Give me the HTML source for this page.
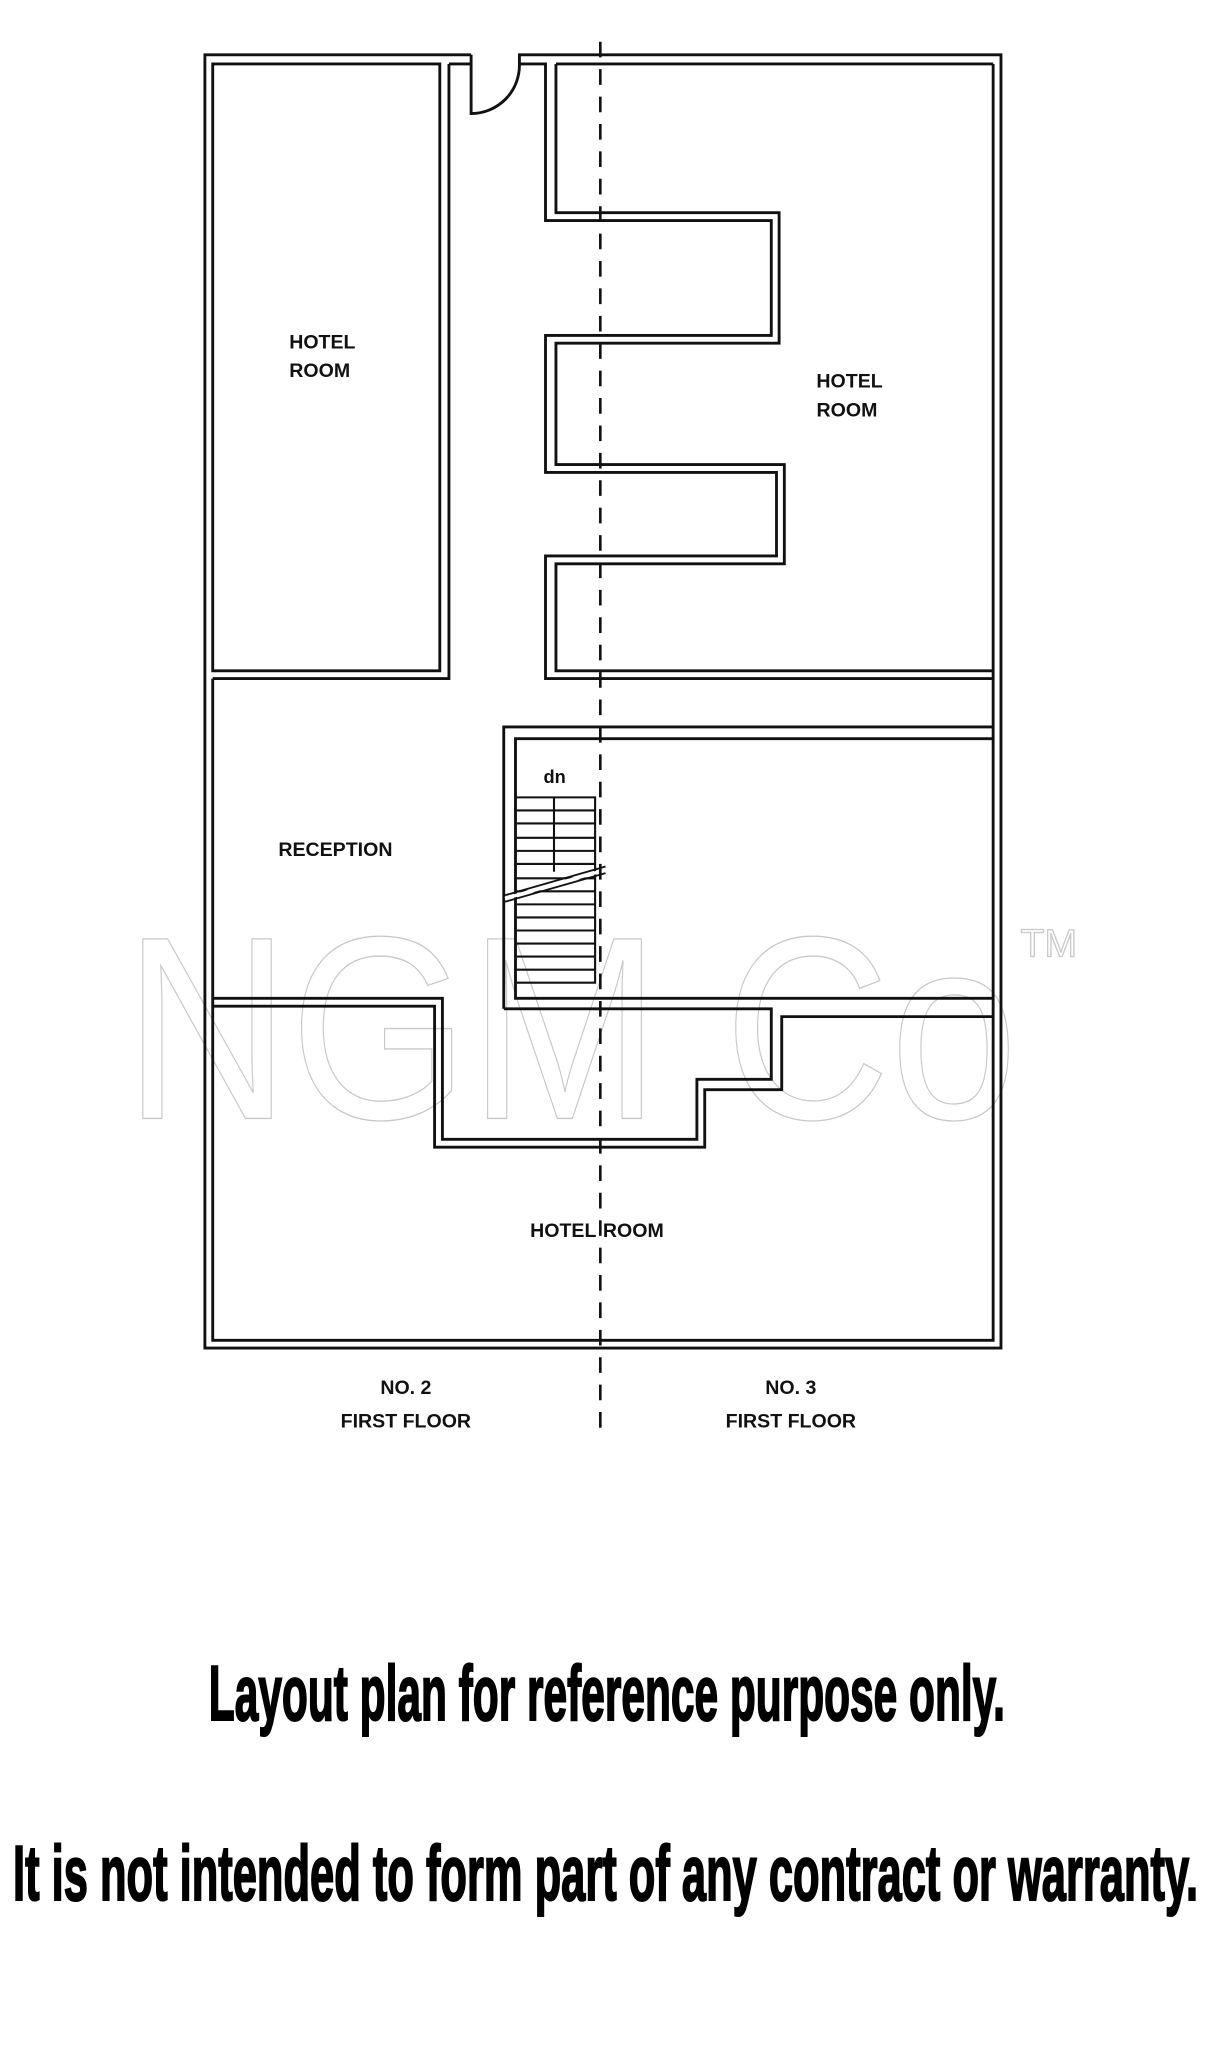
<!DOCTYPE html>
<html><head><meta charset="utf-8"><style>
html,body{margin:0;padding:0;background:#fff;}
svg{display:block;}
</style></head><body>
<svg width="1209" height="2048" viewBox="0 0 926.4 1569.3" preserveAspectRatio="none" xmlns="http://www.w3.org/2000/svg">
<rect width="926.4" height="1569.3" fill="#fff"/>
<!-- watermark -->
<g fill="none" stroke="#c8c8c8" stroke-width="1">
<text x="95" y="857" font-family="Liberation Sans, sans-serif" font-size="200" textLength="685" lengthAdjust="spacingAndGlyphs">NGM Co</text>
<text x="782" y="733" font-family="Liberation Sans, sans-serif" font-size="30">TM</text>
</g>
<g fill="none" stroke="#111" stroke-width="2.2" stroke-linejoin="miter">
<path d="M361,42 H157 V1033 H767 V42 H398 V49"/>
<path d="M361,42 V87 A37 37 0 0 0 398,49"/>
<path d="M761,49 V1027 H163 V520"/>
<path d="M163,49 H337 V514 H163 Z"/>
<path d="M344,49 H361 M344,49 V520 H163"/>
<path d="M398,49 H418 V169 H591 V257 H418 V362 H595 V426 H418 V520 H761"/>
<path d="M426,49 V163 H597 V263 H426 V356 H601 V432 H426 V514 H761"/>
<path d="M426,49 H761"/>
<path d="M761,557 H386 V773"/>
<path d="M761,566 H395 V765 H761"/>
<path d="M163,765 H339 V873 H534 V827 H591 V773 H386"/>
<path d="M163,771 H333 V879 H540 V835 H599 V779 H761"/>
</g>
<g stroke="#111" stroke-width="1.6" fill="none">
<path d="M396,611 H456 V753 H396"/>
<path d="M396,621 H456 M396,631 H456 M396,642 H456 M396,652 H456 M396,662 H456 M396,673 H456 M396,683 H456 M396,693 H456 M396,703 H456 M396,713 H456 M396,723 H456 M396,733 H456 M396,743 H456"/>
<path d="M424.5,611 V668"/>
</g>
<g stroke="#111" stroke-width="1.4">
<path d="M387,686 L464,664" />
<path d="M387,691 L464,669" />
</g>
<path d="M387,688.5 L464,666.5" stroke="#fff" stroke-width="2.5"/>
<path d="M460,32 V1100" stroke="#111" stroke-width="2" stroke-dasharray="12,9"/>
<g font-family="Liberation Sans, Arial, sans-serif" font-weight="bold" font-size="15" fill="#111" text-anchor="middle">
<text x="247" y="267">HOTEL</text>
<text x="245" y="289">ROOM</text>
<text x="651" y="297">HOTEL</text>
<text x="649" y="319">ROOM</text>
<text x="257" y="656">RECEPTION</text>
<text x="425" y="600" font-size="14">dn</text>
<text x="457" y="948" text-anchor="end">HOTEL</text>
<text x="462" y="948" text-anchor="start">ROOM</text>
<text x="311" y="1068">NO. 2</text>
<text x="311" y="1094">FIRST FLOOR</text>
<text x="606" y="1068">NO. 3</text>
<text x="606" y="1094">FIRST FLOOR</text>
</g>
<g font-family="Liberation Sans Narrow, Liberation Sans, sans-serif" font-weight="bold" fill="#000" stroke="#000" stroke-width="1.6">
<text x="160" y="1318" font-size="60" textLength="610" lengthAdjust="spacingAndGlyphs">Layout plan for reference purpose only.</text>
<text x="10" y="1456" font-size="60" textLength="908" lengthAdjust="spacingAndGlyphs">It is not intended to form part of any contract or warranty.</text>
</g>
</svg>
</body></html>
